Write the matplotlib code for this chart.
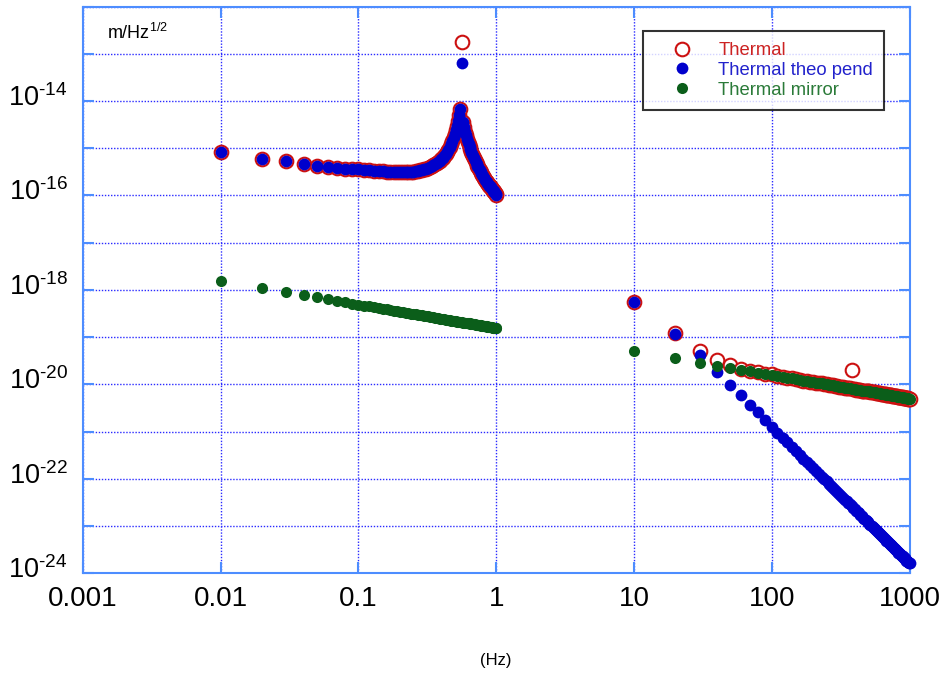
import matplotlib
matplotlib.use("Agg")
import matplotlib.pyplot as plt
import matplotlib.transforms as mtransforms
import numpy as np

plt.rcParams['font.family'] = ['Liberation Sans', 'DejaVu Sans']
plt.rcParams['mathtext.fontset'] = 'custom'
plt.rcParams['mathtext.rm'] = 'Liberation Sans'
plt.rcParams['mathtext.it'] = 'Liberation Sans:italic'
plt.rcParams['mathtext.bf'] = 'Liberation Sans:bold'

# frequencies (Hz)
freq_lo = [0.01, 0.02, 0.03, 0.04, 0.05, 0.06, 0.07, 0.08, 0.09, 0.10,
           0.11, 0.12, 0.13, 0.14, 0.15, 0.16, 0.17, 0.18, 0.19, 0.20,
           0.21, 0.22, 0.23, 0.24, 0.25, 0.26, 0.27, 0.28, 0.29, 0.30,
           0.31, 0.32, 0.33, 0.34, 0.35, 0.36, 0.37, 0.38, 0.39, 0.40,
           0.41, 0.42, 0.43, 0.44, 0.45, 0.46, 0.47, 0.48, 0.49, 0.50,
           0.51, 0.52, 0.53, 0.54, 0.55, 0.56, 0.57, 0.58, 0.59, 0.60,
           0.61, 0.62, 0.63, 0.64, 0.65, 0.66, 0.67, 0.68, 0.69, 0.70,
           0.71, 0.72, 0.73, 0.74, 0.75, 0.76, 0.77, 0.78, 0.79, 0.80,
           0.81, 0.82, 0.83, 0.84, 0.85, 0.86, 0.87, 0.88, 0.89, 0.90,
           0.91, 0.92, 0.93, 0.94, 0.95, 0.96, 0.97, 0.98, 0.99, 1.00]
freq_hi = [10, 20, 30, 40, 50, 60, 70, 80, 90, 100,
           110, 120, 130, 140, 150, 160, 170, 180, 190, 200,
           210, 220, 230, 240, 250, 260, 270, 280, 290, 300,
           310, 320, 330, 340, 350, 360, 370, 380, 390, 400,
           410, 420, 430, 440, 450, 460, 470, 480, 490, 500,
           510, 520, 530, 540, 550, 560, 570, 580, 590, 600,
           610, 620, 630, 640, 650, 660, 670, 680, 690, 700,
           710, 720, 730, 740, 750, 760, 770, 780, 790, 800,
           810, 820, 830, 840, 850, 860, 870, 880, 890, 900,
           910, 920, 930, 940, 950, 960, 970, 980, 990, 1000]

# log10 of amplitude spectral density (m/Hz^1/2)
thermal_lo = [-15.07, -15.22, -15.28, -15.33, -15.37, -15.39, -15.41, -15.43, -15.44, -15.45,
              -15.46, -15.47, -15.48, -15.49, -15.49, -15.50, -15.50, -15.51, -15.51, -15.51,
              -15.51, -15.51, -15.51, -15.50, -15.50, -15.49, -15.48, -15.47, -15.46, -15.45,
              -15.44, -15.42, -15.40, -15.38, -15.36, -15.34, -15.32, -15.29, -15.26, -15.23,
              -15.20, -15.16, -15.12, -15.08, -15.03, -14.98, -14.92, -14.85, -14.77, -14.70,
              -14.61, -14.52, -14.42, -14.30, -14.16, -12.76, -14.45, -14.56, -14.65, -14.73,
              -14.80, -14.86, -14.92, -14.97, -15.02, -15.07, -15.12, -15.17, -15.21, -15.25,
              -15.29, -15.33, -15.37, -15.40, -15.44, -15.47, -15.50, -15.53, -15.56, -15.59,
              -15.62, -15.64, -15.67, -15.69, -15.71, -15.73, -15.75, -15.77, -15.79, -15.81,
              -15.83, -15.85, -15.86, -15.88, -15.90, -15.91, -15.93, -15.95, -15.96, -15.98]
pend_lo = [-15.07, -15.22, -15.28, -15.33, -15.37, -15.39, -15.41, -15.43, -15.44, -15.45,
           -15.46, -15.47, -15.48, -15.49, -15.49, -15.50, -15.50, -15.51, -15.51, -15.51,
           -15.51, -15.51, -15.51, -15.50, -15.50, -15.49, -15.48, -15.47, -15.46, -15.45,
           -15.44, -15.42, -15.40, -15.38, -15.36, -15.34, -15.32, -15.29, -15.26, -15.23,
           -15.20, -15.16, -15.12, -15.08, -15.03, -14.98, -14.92, -14.85, -14.77, -14.70,
           -14.61, -14.52, -14.42, -14.30, -14.16, -13.19, -14.45, -14.56, -14.65, -14.73,
           -14.80, -14.86, -14.92, -14.97, -15.02, -15.07, -15.12, -15.17, -15.21, -15.25,
           -15.29, -15.33, -15.37, -15.40, -15.44, -15.47, -15.50, -15.53, -15.56, -15.59,
           -15.62, -15.64, -15.67, -15.69, -15.71, -15.73, -15.75, -15.77, -15.79, -15.81,
           -15.83, -15.85, -15.86, -15.88, -15.90, -15.91, -15.93, -15.95, -15.96, -15.98]
mirror_lo = [-17.81, -17.96, -18.05, -18.11, -18.16, -18.20, -18.23, -18.26, -18.29, -18.31,
             -18.33, -18.35, -18.37, -18.38, -18.40, -18.41, -18.43, -18.44, -18.45, -18.46,
             -18.47, -18.48, -18.49, -18.50, -18.51, -18.52, -18.53, -18.53, -18.54, -18.55,
             -18.56, -18.56, -18.57, -18.58, -18.58, -18.59, -18.59, -18.60, -18.61, -18.61,
             -18.62, -18.62, -18.63, -18.63, -18.64, -18.64, -18.65, -18.65, -18.66, -18.66,
             -18.66, -18.67, -18.67, -18.68, -18.68, -18.68, -18.69, -18.69, -18.70, -18.70,
             -18.70, -18.71, -18.71, -18.71, -18.72, -18.72, -18.72, -18.73, -18.73, -18.73,
             -18.74, -18.74, -18.74, -18.74, -18.75, -18.75, -18.75, -18.76, -18.76, -18.76,
             -18.76, -18.77, -18.77, -18.77, -18.77, -18.78, -18.78, -18.78, -18.78, -18.79,
             -18.79, -18.79, -18.79, -18.80, -18.80, -18.80, -18.80, -18.81, -18.81, -18.81]

thermal_hi = [-18.26, -18.92, -19.29, -19.48, -19.58, -19.67, -19.71, -19.74, -19.77, -19.79,
              -19.82, -19.84, -19.86, -19.87, -19.89, -19.90, -19.92, -19.93, -19.94, -19.95,
              -19.96, -19.97, -19.98, -19.99, -20.00, -20.01, -20.02, -20.02, -20.03, -20.04,
              -20.05, -20.05, -20.06, -20.07, -20.07, -20.08, -20.08, -19.69, -20.10, -20.10,
              -20.11, -20.11, -20.12, -20.12, -20.13, -20.13, -20.14, -20.14, -20.15, -20.15,
              -20.15, -20.16, -20.16, -20.17, -20.17, -20.17, -20.18, -20.18, -20.19, -20.19,
              -20.19, -20.20, -20.20, -20.20, -20.21, -20.21, -20.21, -20.22, -20.22, -20.22,
              -20.23, -20.23, -20.23, -20.23, -20.24, -20.24, -20.24, -20.25, -20.25, -20.25,
              -20.25, -20.26, -20.26, -20.26, -20.26, -20.27, -20.27, -20.27, -20.27, -20.28,
              -20.28, -20.28, -20.28, -20.29, -20.29, -20.29, -20.29, -20.30, -20.30, -20.30]
pend_hi = [-18.26, -18.94, -19.37, -19.73, -20.01, -20.23, -20.43, -20.59, -20.75, -20.90,
           -21.02, -21.13, -21.23, -21.32, -21.41, -21.49, -21.57, -21.64, -21.71, -21.77,
           -21.83, -21.89, -21.95, -22.00, -22.05, -22.10, -22.15, -22.19, -22.24, -22.28,
           -22.32, -22.36, -22.40, -22.44, -22.47, -22.51, -22.54, -22.58, -22.61, -22.64,
           -22.67, -22.70, -22.73, -22.76, -22.79, -22.82, -22.84, -22.87, -22.90, -22.92,
           -22.95, -22.97, -22.99, -23.02, -23.04, -23.06, -23.08, -23.11, -23.13, -23.15,
           -23.17, -23.19, -23.21, -23.23, -23.25, -23.27, -23.29, -23.31, -23.32, -23.34,
           -23.36, -23.38, -23.39, -23.41, -23.43, -23.45, -23.46, -23.48, -23.49, -23.51,
           -23.52, -23.54, -23.56, -23.57, -23.59, -23.60, -23.61, -23.63, -23.64, -23.66,
           -23.67, -23.68, -23.70, -23.71, -23.73, -23.74, -23.75, -23.76, -23.78, -23.79]
mirror_hi = [-19.30, -19.45, -19.54, -19.60, -19.65, -19.69, -19.72, -19.75, -19.78, -19.80,
             -19.82, -19.84, -19.86, -19.87, -19.89, -19.90, -19.92, -19.93, -19.94, -19.95,
             -19.96, -19.97, -19.98, -19.99, -20.00, -20.01, -20.02, -20.02, -20.03, -20.04,
             -20.05, -20.05, -20.06, -20.07, -20.07, -20.08, -20.08, -20.09, -20.10, -20.10,
             -20.11, -20.11, -20.12, -20.12, -20.13, -20.13, -20.14, -20.14, -20.15, -20.15,
             -20.15, -20.16, -20.16, -20.17, -20.17, -20.17, -20.18, -20.18, -20.19, -20.19,
             -20.19, -20.20, -20.20, -20.20, -20.21, -20.21, -20.21, -20.22, -20.22, -20.22,
             -20.23, -20.23, -20.23, -20.23, -20.24, -20.24, -20.24, -20.25, -20.25, -20.25,
             -20.25, -20.26, -20.26, -20.26, -20.26, -20.27, -20.27, -20.27, -20.27, -20.28,
             -20.28, -20.28, -20.28, -20.29, -20.29, -20.29, -20.29, -20.30, -20.30, -20.30]

x_ticks = [0.001, 0.01, 0.1, 1, 10, 100, 1000]
x_labels = ['0.001', '0.01', '0.1', '1', '10', '100', '1000']
y_exps = [-24, -23, -22, -21, -20, -19, -18, -17, -16, -15, -14, -13, -12]

red = '#cc1111'
blue = '#0000cc'
green = '#0b5e1a'
frame_col = '#4d8dff'

freq = np.array(freq_lo + freq_hi)
thermal = 10.0 ** np.array(thermal_lo + thermal_hi)
pend = 10.0 ** np.array(pend_lo + pend_hi)
mirror = 10.0 ** np.array(mirror_lo + mirror_hi)

fig = plt.figure(figsize=(9.42, 6.73), dpi=100)
ax = fig.add_axes([0.0881, 0.1481, 0.8774, 0.8422])

ax.plot(freq, thermal, 'o', ms=9.8, mfc='white', mec=red, mew=1.5,
        label='Thermal', zorder=3, clip_on=False)
ax.plot(freq, pend, 'o', ms=8.5, mfc=blue, mec=blue, mew=0,
        label='Thermal theo pend', zorder=4, clip_on=False)
ax.plot(freq, mirror, 'o', ms=8, mfc=green, mec=green, mew=0,
        label='Thermal mirror', zorder=5, clip_on=False)

ax.set_xscale('log')
ax.set_yscale('log')
ax.set_xlim(0.001, 1000)
ax.set_ylim(1e-24, 1e-12)

ax.set_xticks(x_ticks)
ax.set_xticklabels(x_labels)
ax.set_yticks([10.0 ** e for e in y_exps])
ax.set_yticklabels([r'$\mathregular{10^{\text{-}%d}}$' % (-e) if (e % 2 == 0 and e < -12) else ''
                    for e in y_exps])
ax.minorticks_off()

ax.tick_params(axis='x', which='major', direction='in', length=8, width=1.5,
               color=frame_col, top=True, labelsize=20, pad=9)
ax.tick_params(axis='y', which='major', direction='in', length=8, width=1.5,
               color=frame_col, right=True, labelsize=19.5, pad=11)
shift = mtransforms.ScaledTranslation(0, -5 / 100, fig.dpi_scale_trans)
for lbl in ax.get_yticklabels():
    lbl.set_verticalalignment('baseline')
    lbl.set_transform(lbl.get_transform() + shift)
for sp in ax.spines.values():
    sp.set_color(frame_col)
    sp.set_linewidth(1.5)

ax.grid(True, which='major', color='#2a2aff', linestyle=(0, (1, 1.2)), linewidth=1.0)
ax.set_axisbelow(True)

fig.text(496 / 942, 1 - 660 / 673, '(Hz)', fontsize=12, ha='center', va='center')
ax.text(0.029, 0.942, r'm/Hz$^{\mathregular{1/2}}$', transform=ax.transAxes,
        fontsize=13, ha='left', va='baseline')

leg = ax.legend(loc='upper left', bbox_to_anchor=(0.678, 0.957), borderaxespad=0,
                fontsize=13.3, frameon=True, fancybox=False, borderpad=0.6,
                handlelength=3.0, handletextpad=0.45, labelspacing=0.15)
leg.get_frame().set_edgecolor('black')
leg.get_frame().set_linewidth(1.5)
for txt, col in zip(leg.get_texts(), ['#cc2222', '#2222cc', '#2a7a38']):
    txt.set_color(col)

fig.savefig('out.png', dpi=100)
